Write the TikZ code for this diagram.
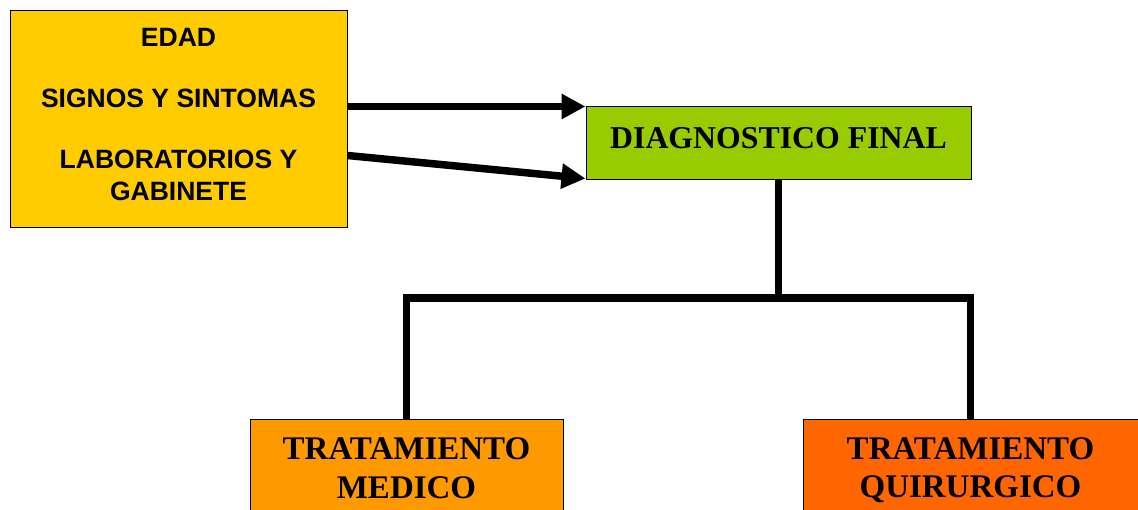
\documentclass[tikz,border=0pt]{standalone}
\usepackage{fontspec}
\setmainfont{Liberation Serif}
\newfontfamily\arialfont{Liberation Sans}
\usetikzlibrary{arrows.meta}
\definecolor{yel}{HTML}{FFCC00}
\definecolor{grn}{HTML}{99CC00}
\definecolor{org}{HTML}{FF9900}
\definecolor{dorg}{HTML}{FF6600}
\tikzset{
  box/.style={draw=black, line width=1pt, inner sep=0pt, rectangle},
  sanslbl/.style={font=\arialfont\bfseries\fontsize{26.5}{30}\selectfont, anchor=base, inner sep=0pt},
  seriflbl/.style={font=\bfseries\fontsize{31.8}{38}\selectfont, anchor=base, inner sep=0pt},
  botlbl/.style={font=\bfseries\fontsize{33}{38}\selectfont, anchor=base, inner sep=0pt},
  thickline/.style={line width=7.5pt},
  arr/.style={line width=7.5pt, -{Triangle[length=24pt,width=24pt]}},
}
\begin{document}
\begin{tikzpicture}[x=1pt,y=-1pt]
\useasboundingbox (0,0) rectangle (1138,510);
\clip (0,0) rectangle (1138,510);
% boxes
\node[box, fill=yel, minimum width=337pt, minimum height=217pt] (inp) at (178.5,119.5) {};
\node[box, fill=grn, minimum width=385pt, minimum height=73pt] (diag) at (778.5,143.5) {};
\node[box, fill=org, minimum width=313pt, minimum height=140pt, anchor=north] (med) at (406.5,419) {};
\node[box, fill=dorg, minimum width=335pt, minimum height=140pt, anchor=north] (qui) at (970.5,419) {};
% texts
\node[sanslbl] (t1) at (178.5,47) {EDAD};
\node[sanslbl] (t2) at (178.5,108) {SIGNOS Y SINTOMAS};
\node[sanslbl] (t3) at (178.5,169) {LABORATORIOS Y};
\node[sanslbl] (t4) at (178.5,201) {GABINETE};
\node[seriflbl] (td) at (778.5,149) {DIAGNOSTICO FINAL};
\node[botlbl] (tm1) at (406.5,460) {TRATAMIENTO};
\node[botlbl] (tm2) at (406.5,498) {MEDICO};
\node[botlbl] (tq1) at (970.5,460) {TRATAMIENTO};
\node[botlbl] (tq2) at (970.5,497) {QUIRURGICO};
% arrows
\draw[arr] ([yshift=-96pt]inp.north east) -- (diag.north west);
\draw[arr] ([yshift=-145pt]inp.north east) -- ([yshift=2pt]diag.south west);
% tree
\coordinate (j) at (778.5,298);
\draw[thickline] (diag.south) -- (j);
\draw[thickline] (med.north) |- (j) -| (qui.north);
\end{tikzpicture}
\end{document}
